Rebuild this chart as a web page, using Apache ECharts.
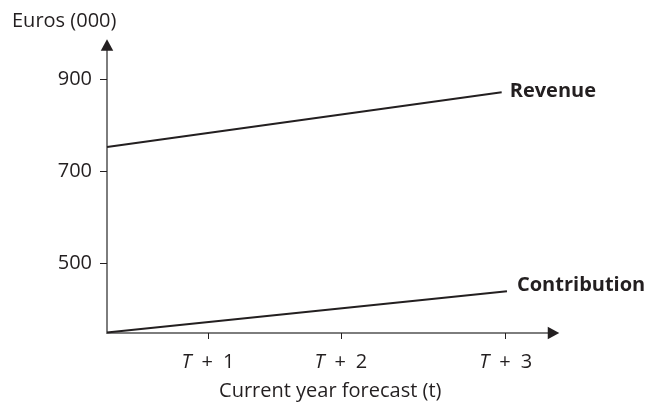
<!DOCTYPE html>
<html>
<head>
<meta charset="utf-8">
<script src="https://cdn.jsdelivr.net/npm/echarts@6/dist/echarts.min.js"></script>
<style>
  html, body { margin: 0; padding: 0; background: #fff; }
  #chart { width: 647px; height: 406px; }
</style>
</head>
<body>
<div id="chart"></div>
<script>
// Forecast periods on the horizontal axis (origin = current year)
const periodPositions = [0.76, 1.76, 3];
const periodLabels = ['T + 1', 'T + 2', 'T + 3'];

// Vertical axis ticks, in thousands of euros
const euroTicks = [500, 700, 900];

// Revenue and contribution lines: [period, value]
const revenueX = [0, 2.97];
const revenueY = [753, 872];
const contributionX = [0, 3.01];
const contributionY = [349, 439];

const FONT = '"Open Sans", "Noto Sans", sans-serif';
const INK = '#231f20';
const AXIS_GREY = '#7d7d7d';

function pairs(xs, ys) {
  return xs.map((x, i) => [x, ys[i]]);
}

const X_MIN = 0, X_MAX = 3.36;
const Y_MIN = 348, Y_MAX = 975;

// Overlay axes with an invisible line: they only contribute the dark arrowheads
const arrowAxisX = {
  type: 'value', min: X_MIN, max: X_MAX, position: 'bottom',
  axisLine: { show: true, symbol: ['none', 'triangle'], symbolSize: [12.5, 11.5],
              lineStyle: { color: INK, width: 0 } },
  axisTick: { show: false }, axisLabel: { show: false }, splitLine: { show: false }
};
const arrowAxisY = {
  type: 'value', min: Y_MIN, max: Y_MAX, position: 'left',
  axisLine: { show: true, symbol: ['none', 'triangle'], symbolSize: [12.5, 11.5],
              lineStyle: { color: INK, width: 0 } },
  axisTick: { show: false }, axisLabel: { show: false }, splitLine: { show: false }
};

const chart = echarts.init(document.getElementById('chart'), null, { renderer: 'canvas' });
chart.setOption({
  animation: false,
  backgroundColor: '#ffffff',
  textStyle: { fontFamily: FONT, color: INK },
  title: {
    text: 'Euros (000)',
    left: 7, top: 6,
    textStyle: { fontFamily: FONT, fontSize: 20, fontWeight: 'normal', color: INK }
  },
  grid: { left: 107, top: 45, width: 446.5, height: 289.3, containLabel: false },
  xAxis: [{
    type: 'value', min: X_MIN, max: X_MAX, position: 'bottom',
    name: 'Current year forecast (t)',
    nameLocation: 'middle', nameGap: 48,
    nameTextStyle: { fontFamily: FONT, fontSize: 20, color: INK, lineHeight: 20 },
    axisLine: { show: true, lineStyle: { color: AXIS_GREY, width: 2 } },
    axisTick: { show: true, length: 6, customValues: periodPositions,
                lineStyle: { color: INK, width: 1 } },
    axisLabel: {
      customValues: periodPositions, margin: 19,
      formatter: function (v) {
        const i = periodPositions.findIndex(p => Math.abs(p - v) < 1e-6);
        const s = i >= 0 ? periodLabels[i] : '';
        // italic period symbol, wider spacing round the plus sign
        return s.replace(/ /g, '\u2002').replace(/^T/, '{it|T}');
      },
      fontFamily: FONT, fontSize: 20, color: INK, lineHeight: 20,
      rich: { it: { fontStyle: 'italic', fontFamily: FONT, fontSize: 20, color: INK, lineHeight: 20 } }
    },
    splitLine: { show: false }
  }, arrowAxisX],
  yAxis: [{
    type: 'value', min: Y_MIN, max: Y_MAX, position: 'left',
    axisLine: { show: true, lineStyle: { color: AXIS_GREY, width: 2 } },
    axisTick: { show: true, length: 7, customValues: euroTicks,
                lineStyle: { color: INK, width: 1 } },
    axisLabel: { customValues: euroTicks, margin: 15,
                 fontFamily: FONT, fontSize: 20, color: INK },
    splitLine: { show: false }
  }, arrowAxisY],
  series: [{
    name: 'Revenue', type: 'line',
    data: pairs(revenueX, revenueY),
    showSymbol: false, symbol: 'none',
    lineStyle: { color: INK, width: 2 },
    endLabel: { show: true, formatter: 'Revenue', distance: 8, offset: [0, -1],
                fontFamily: FONT, fontSize: 20, fontWeight: 'bold', color: INK }
  }, {
    name: 'Contribution', type: 'line',
    data: pairs(contributionX, contributionY),
    showSymbol: false, symbol: 'none',
    lineStyle: { color: INK, width: 2 },
    endLabel: { show: true, formatter: 'Contribution', distance: 10, offset: [0, -6],
                fontFamily: FONT, fontSize: 20, fontWeight: 'bold', color: INK }
  }]
});
</script>
</body>
</html>
